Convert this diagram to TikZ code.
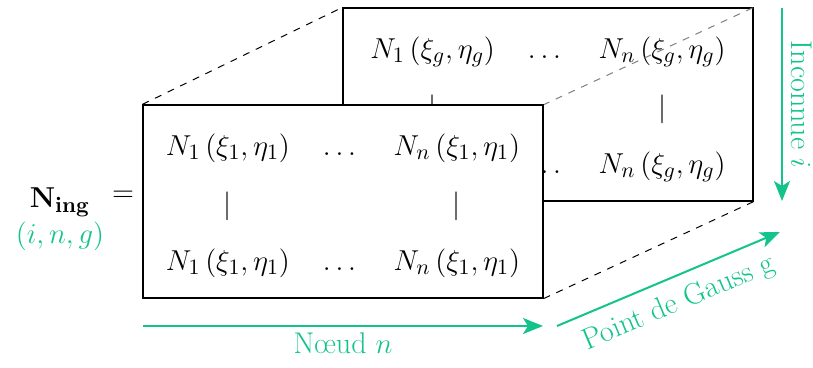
\documentclass[tikz,border=0pt]{standalone}
\usepackage{amsmath,amssymb}
\usepackage{tikz}
\usetikzlibrary{arrows.meta,positioning,calc}
\definecolor{ingGreen}{RGB}{18,196,140}

\begin{document}
\begin{tikzpicture}[x=0.5pt,y=-0.5pt,font=\fontsize{15}{18}\selectfont,
    panel/.style={draw,fill=white,line width=0.6pt,inner sep=0pt,
                  minimum height=96.5pt,align=center},
    hidden/.style={line width=0.5pt,dash pattern=on 3.5pt off 3.5pt},
    axis/.style={draw=ingGreen,line width=1pt,-{Stealth[length=10pt,width=8pt,inset=2.5pt]}},
    axislbl/.style={text=ingGreen}]
  \useasboundingbox (0,0) rectangle (813,368);
  % back layer (Gauss point g)
  \node[panel,minimum width=205pt] (back) at (548,104.5)
    {\raisebox{2.5pt}{\def\arraystretch{1.6}$\begin{array}{c@{\hspace{1.1em}}c@{\hspace{1.1em}}c}
      N_1\left(\xi_g,\eta_g\right) & \dots & N_n\left(\xi_g,\eta_g\right)\\
      | & & |\\
      \phantom{N_1\left(\xi_g,\eta_g\right)} & \dots & N_n\left(\xi_g,\eta_g\right)
    \end{array}$}};
  \draw[hidden,gray] (543,105) -- (back.north east);
  % front layer (first Gauss point)
  \node[panel,minimum width=200pt] (front) at (343,201.5)
    {\raisebox{2.5pt}{\def\arraystretch{1.6}$\begin{array}{c@{\hspace{1.1em}}c@{\hspace{1.1em}}c}
      N_1\left(\xi_1,\eta_1\right) & \dots & N_n\left(\xi_1,\eta_1\right)\\
      | & & |\\
      N_1\left(\xi_1,\eta_1\right) & \dots & N_n\left(\xi_1,\eta_1\right)
    \end{array}$}};
  \draw[hidden] (front.north west) -- (back.north west);
  \draw[hidden] (front.south east) -- (back.south east);
  % left-hand side
  \node (Ning) at (60,202) {$\mathbf{N}_{\mathbf{ing}}$};
  \node[axislbl] (ing) at (60,236) {$(i,n,g)$};
  \node (eq) at (123,196) {$=$};
  % directions
  \coordinate (iTop) at (782,8);
  \coordinate (iBot) at (782,201);
  \draw[axis] (iTop) -- (iBot)
    node[midway,anchor=south,rotate=-90,axislbl,inner sep=4pt] (inconnue) {Inconnue $i$};
  \coordinate (nL) at (143,326);
  \coordinate (nR) at (543,326);
  \draw[axis] (nL) -- (nR)
    node[midway,below,axislbl,inner sep=3pt] (noeud) {N\oe ud $n$};
  \coordinate (gL) at (557,326);
  \coordinate (gR) at (780,232);
  \draw[axis] (gL) -- (gR)
    node[midway,below,sloped,axislbl,inner sep=6pt] (gauss) {Point de Gauss g};
\end{tikzpicture}
\end{document}
